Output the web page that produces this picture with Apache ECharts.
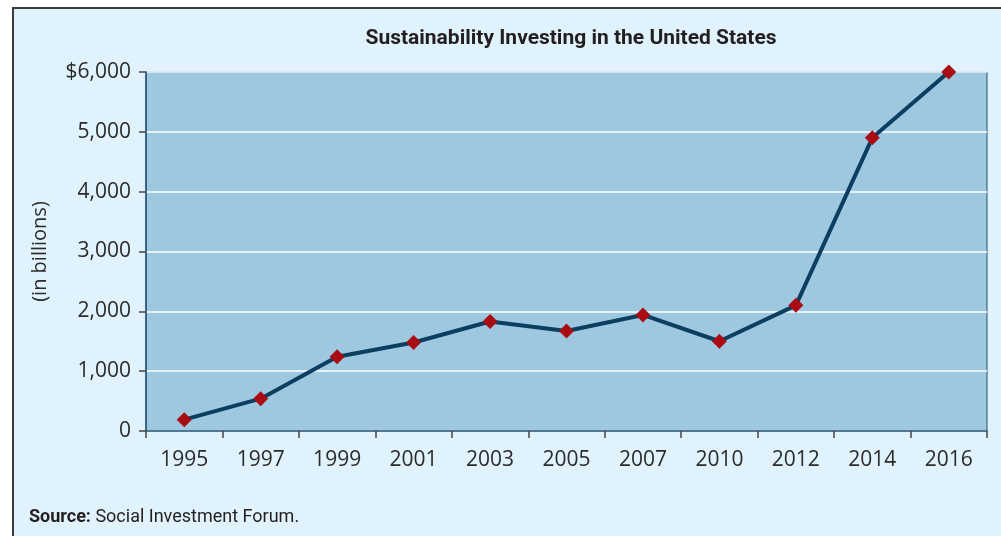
<!DOCTYPE html>
<html>
<head>
<meta charset="utf-8">
<script src="https://cdn.jsdelivr.net/npm/echarts@6/dist/echarts.min.js"></script>
<style>
  html, body { margin: 0; padding: 0; background: #ffffff; }
  #chart { width: 1001px; height: 536px; }
</style>
</head>
<body>
<div id="chart"></div>
<script>
// Sustainability investing assets in the US, in billions of dollars
const years = ['1995', '1997', '1999', '2001', '2003', '2005', '2007', '2010', '2012', '2014', '2016'];
const assets = [190, 540, 1240, 1480, 1830, 1670, 1940, 1500, 2100, 4900, 6000];
const yTicks = [0, 1000, 2000, 3000, 4000, 5000, 6000];

const chart = echarts.init(document.getElementById('chart'), null, { renderer: 'canvas' });

const labelFont = '"Open Sans", "Liberation Sans", sans-serif';

chart.setOption({
  animation: false,
  backgroundColor: '#ffffff',
  title: {
    text: 'Sustainability Investing in the United States',
    left: 566,
    top: 23,
    textAlign: 'center',
    textStyle: {
      fontFamily: 'Roboto, "Open Sans", sans-serif',
      fontWeight: 'bold',
      fontSize: 21,
      color: '#231f20'
    }
  },
  graphic: {
    z: -10,
    elements: [
      {
        type: 'rect',
        z: -10,
        shape: { x: 13, y: 8, width: 1000, height: 540 },
        style: { fill: '#e0f2fc', stroke: '#3c3c3c', lineWidth: 2 }
      },
      {
        type: 'text',
        left: 29,
        top: 508,
        style: {
          text: '{b|Source:} Social Investment Forum.',
          rich: {
            b: { fontWeight: 'bold', fontFamily: 'Roboto, sans-serif', fontSize: 18, fill: '#231f20' }
          },
          fontFamily: 'Roboto, sans-serif',
          fontSize: 18,
          fill: '#231f20'
        }
      }
    ]
  },
  grid: {
    left: 146,
    top: 72,
    width: 841,
    height: 359,
    show: true,
    backgroundColor: '#9dc8df',
    borderColor: '#245374',
    borderWidth: 1
  },
  xAxis: {
    type: 'category',
    data: years,
    boundaryGap: true,
    axisLine: { show: true, lineStyle: { color: '#245374', width: 1.5 } },
    axisTick: { show: true, length: 7, lineStyle: { color: '#444444', width: 1.5 } },
    axisLabel: {
      fontFamily: labelFont,
      fontSize: 21,
      color: '#2b2b2b',
      margin: 19
    }
  },
  yAxis: {
    type: 'value',
    min: yTicks[0],
    max: yTicks[yTicks.length - 1],
    interval: 1000,
    name: '(in billions)',
    nameLocation: 'middle',
    nameGap: 96,
    nameTextStyle: { fontFamily: labelFont, fontSize: 20, color: '#2b2b2b' },
    axisLine: { show: true, lineStyle: { color: '#245374', width: 1.5 } },
    axisTick: { show: true, length: 7, lineStyle: { color: '#444444', width: 1.5 } },
    splitLine: { show: true, lineStyle: { color: '#ffffff', width: 1.5 } },
    axisLabel: {
      fontFamily: labelFont,
      fontSize: 21,
      color: '#2b2b2b',
      margin: 15,
      formatter: function (v) {
        const s = v.toLocaleString('en-US');
        return v === yTicks[yTicks.length - 1] ? '$' + s : s;
      }
    }
  },
  series: [{
    type: 'line',
    data: assets,
    symbol: 'diamond',
    symbolSize: 15,
    lineStyle: { color: '#0b3e60', width: 4 },
    itemStyle: { color: '#a90d13' },
    z: 3
  }]
});
</script>
</body>
</html>
